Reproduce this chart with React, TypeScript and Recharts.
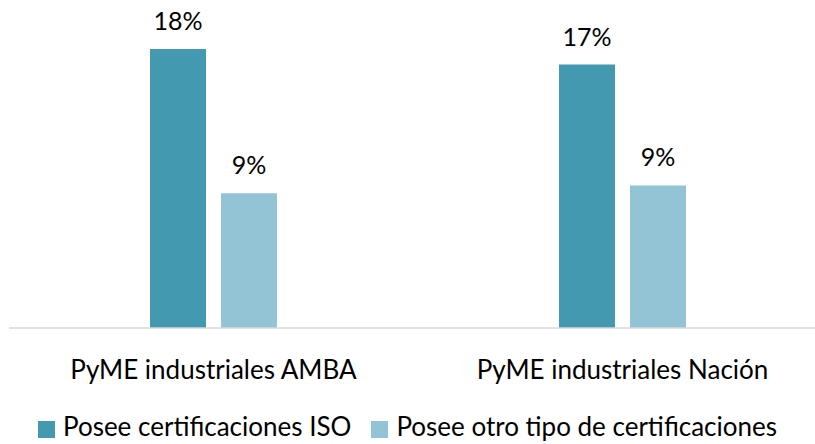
import React from 'react';
import { BarChart, Bar, XAxis, YAxis, LabelList, Legend } from 'recharts';

const categories = ['PyME industriales AMBA', 'PyME industriales Nación'];
const isoValues = [18.0, 17.0];
const otherValues = [8.7, 9.2];
const seriesNames = ['Posee certificaciones ISO', 'Posee otro tipo de certificaciones'];
const colors = ['#4399B0', '#93C4D5'];

const data = categories.map((c, i) => ({ name: c, iso: isoValues[i], other: otherValues[i] }));

const fmt = (v: any) => `${Math.round(Number(v))}%`;

const LegendContent = () => (
  <div style={{ display: 'flex', justifyContent: 'center', alignItems: 'center', fontFamily: 'Lato', fontSize: 26, lineHeight: 1.2, color: '#000', whiteSpace: 'nowrap' }}>
    {seriesNames.map((n, i) => (
      <span key={n} style={{ display: 'inline-flex', alignItems: 'center', marginRight: i === 0 ? 20 : 0 }}>
        <span style={{ display: 'inline-block', width: 17, height: 17, background: colors[i], marginRight: 8, position: 'relative', top: 3 }} />
        {n}
      </span>
    ))}
  </div>
);

export default function App() {
  return (
    <div style={{ position: 'absolute', left: 0, top: 0, width: 815, height: 444, overflow: 'hidden', background: '#fff' }}>
      <BarChart width={827} height={444} data={data} margin={{ top: 18, right: 0, left: 9, bottom: 0 }} barGap={15} barSize={56}>
        <YAxis hide domain={[0, 20]} />
        <XAxis
          dataKey="name"
          height={116}
          tickLine={false}
          axisLine={{ stroke: '#D9D9D9', strokeWidth: 1.5 }}
          tick={{ fontFamily: 'Lato', fontSize: 26, fill: '#000' }}
          tickMargin={27}
          interval={0}
        />
        <Legend layout="horizontal" verticalAlign="middle" align="center" content={<LegendContent />} wrapperStyle={{ top: 411, left: 0, width: 815 }} />
        <Bar dataKey="iso" name={seriesNames[0]} fill={colors[0]} isAnimationActive={false}>
          <LabelList dataKey="iso" position="top" offset={19} formatter={fmt} style={{ fontFamily: 'Lato', fontSize: 25, fill: '#000' }} />
        </Bar>
        <Bar dataKey="other" name={seriesNames[1]} fill={colors[1]} isAnimationActive={false}>
          <LabelList dataKey="other" position="top" offset={19} formatter={fmt} style={{ fontFamily: 'Lato', fontSize: 25, fill: '#000' }} />
        </Bar>
      </BarChart>
    </div>
  );
}
